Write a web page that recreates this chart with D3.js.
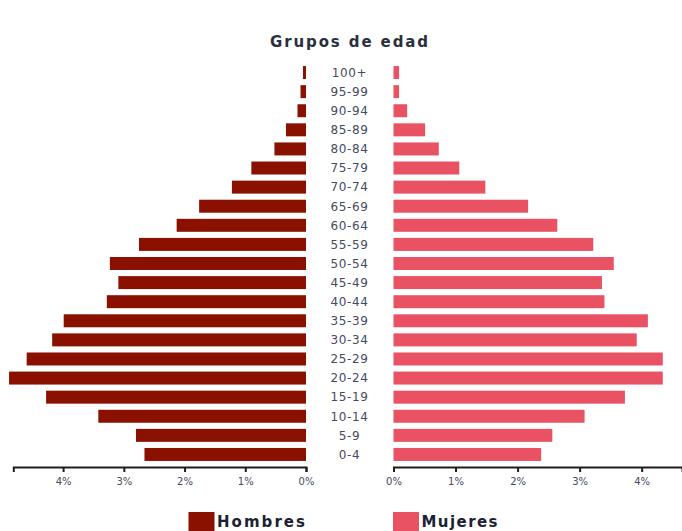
<!DOCTYPE html>
<html>
<head>
<meta charset="utf-8">
<script src="https://cdn.jsdelivr.net/npm/d3@7"></script>
<style>
  html, body { margin: 0; padding: 0; background: #fff; }
  svg { display: block; }
</style>
</head>
<body>
<svg id="chart" width="682" height="531"></svg>
<script>
const ages = ["100+","95-99","90-94","85-89","80-84","75-79","70-74","65-69","60-64","55-59","50-54","45-49","40-44","35-39","30-34","25-29","20-24","15-19","10-14","5-9","0-4"];
const hombres = [0.05,0.09,0.14,0.33,0.52,0.90,1.22,1.76,2.13,2.75,3.23,3.09,3.28,3.99,4.18,4.60,4.89,4.28,3.42,2.80,2.66];
const mujeres = [0.09,0.09,0.22,0.51,0.73,1.06,1.48,2.17,2.64,3.22,3.55,3.36,3.40,4.10,3.92,4.34,4.34,3.73,3.08,2.56,2.38];
const tickValues = [0,1,2,3,4];
const title = "Grupos de edad";
const legendLabels = ["Hombres","Mujeres"];
const colors = ["#8a1100","#e85263"];

const svg = d3.select("#chart");
const textColor = "#454a5e";
const font = "'DejaVu Sans', sans-serif";

const y = d3.scaleBand().domain(ages).range([63, 464]).paddingInner(0.32).paddingOuter(0.16);
const xL = d3.scaleLinear().domain([4.82, 0]).range([13.3, 306]);
const xR = d3.scaleLinear().domain([0, 4.65]).range([393.5, 682]);

// Title
svg.append("text")
  .attr("x", 349).attr("y", 47)
  .attr("text-anchor", "middle")
  .attr("font-family", font).attr("font-weight", "bold")
  .attr("font-size", 15).attr("fill", "#2a2f3e")
  .attr("textLength", 158).attr("lengthAdjust", "spacing")
  .text(title);

// Bars
svg.append("g").selectAll("rect").data(ages).join("rect")
  .attr("x", (d, i) => xL(hombres[i]))
  .attr("y", d => y(d))
  .attr("width", (d, i) => xL(0) - xL(hombres[i]))
  .attr("height", y.bandwidth())
  .attr("fill", colors[0]);

svg.append("g").selectAll("rect").data(ages).join("rect")
  .attr("x", xR(0))
  .attr("y", d => y(d))
  .attr("width", (d, i) => xR(mujeres[i]) - xR(0))
  .attr("height", y.bandwidth())
  .attr("fill", colors[1]);

// Age labels
svg.append("g").selectAll("text").data(ages).join("text")
  .attr("x", 349.5)
  .attr("y", d => y(d) + y.bandwidth() / 2)
  .attr("dy", "0.36em")
  .attr("text-anchor", "middle")
  .attr("font-family", font).attr("font-size", 12)
  .attr("letter-spacing", 0.6)
  .attr("fill", textColor)
  .text(d => d);

// Axes
const fmt = d => d + "%";
function styleAxis(g) {
  g.select(".domain").attr("stroke", "#1e1e1e").attr("stroke-width", 2);
  g.selectAll(".tick line").attr("stroke", "#1e1e1e").attr("stroke-width", 2);
  g.selectAll(".tick text").attr("font-family", font).attr("font-size", 10)
    .attr("fill", textColor).attr("dy", "1.0em");
}
const axisY = 467;
svg.append("g").attr("transform", `translate(0,${axisY})`)
  .call(d3.axisBottom(xL).tickValues(tickValues).tickFormat(fmt).tickSize(5).tickSizeOuter(5))
  .call(styleAxis);
svg.append("g").attr("transform", `translate(0,${axisY})`)
  .call(d3.axisBottom(xR).tickValues(tickValues).tickFormat(fmt).tickSize(5).tickSizeOuter(5))
  .call(styleAxis);

// Legend
const legendX = [188.5, 393];
const lg = svg.append("g").selectAll("g").data(legendLabels).join("g")
  .attr("transform", (d, i) => `translate(${legendX[i]},512)`);
lg.append("rect").attr("width", 26).attr("height", 22).attr("fill", (d, i) => colors[i]);
lg.append("text")
  .attr("x", 28.5).attr("y", 14.5)
  .attr("font-family", font).attr("font-weight", "bold").attr("font-size", 15)
  .attr("fill", "#1c2235")
  .attr("textLength", (d, i) => [88, 76][i]).attr("lengthAdjust", "spacing")
  .text(d => d);
</script>
</body>
</html>
